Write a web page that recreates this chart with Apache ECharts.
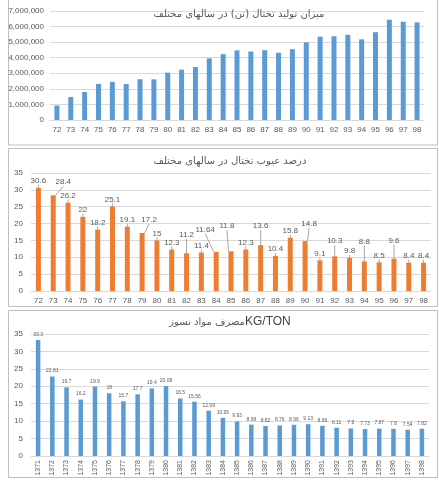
<!DOCTYPE html>
<html><head><meta charset="utf-8">
<script src="https://cdn.jsdelivr.net/npm/echarts@6/dist/echarts.min.js"></script>
<style>html,body{margin:0;padding:0;background:#fff}#c{width:439px;height:484px}</style>
</head><body><div id="c"></div>
<script>
const years2 = ['72','73','74','75','76','77','78','79','80','81','82','83','84','85','86','87','88','89','90','91','92','93','94','95','96','97','98'];
const production = [930000,1480000,1800000,2320000,2450000,2310000,2620000,2610000,3040000,3230000,3400000,3960000,4230000,4470000,4400000,4480000,4320000,4550000,4990000,5350000,5380000,5470000,5180000,5640000,6440000,6310000,6270000];
const defects = [30.6,28.4,26.2,22,18.2,25.1,19.1,17.2,15,12.3,11.2,11.4,11.64,11.8,12.3,13.6,10.4,15.8,14.8,9.1,10.3,9.8,8.8,8.5,9.6,8.4,8.4];
const years4 = ['1371','1372','1373','1374','1375','1376','1377','1378','1379','1380','1381','1382','1383','1384','1385','1386','1387','1388','1389','1390','1391','1392','1393','1394','1395','1396','1397','1398'];
const refractory = [33.3,22.81,19.7,16.2,19.9,18,15.7,17.7,19.4,20.08,16.5,15.56,12.99,10.95,9.93,8.99,8.62,8.76,8.96,9.13,8.66,8.11,7.9,7.73,7.87,7.8,7.54,7.82];
const titles = ['میزان تولید تختال (تن) در سالهای مختلف','درصد عیوب تختال در سالهای مختلف','مصرف مواد نسوز','KG/TON'];

const gray = '#595959';
const font = 'Liberation Sans';
const chart = echarts.init(document.getElementById('c'), null, {renderer:'canvas'});
// label shifts (styling) for defect labels with leader lines
const shifts = {1:[10,-6],7:[7,-6],10:[0,-11],12:[-11,-15],13:[-4,-18],15:[0,-12],18:[4,-10],20:[0,-8],22:[0,-13],24:[0,-11]};
const tStyle = {fontSize:10, fontWeight:'normal', color:gray, fontFamily:'DejaVu Sans'};
const axisLbl = {color:gray, fontSize:8, fontFamily:font};
const split = {lineStyle:{color:'#d9d9d9', width:1}};
chart.setOption({
  animation:false,
  title:[
    {text:titles[0], left:234, top:4, textAlign:'center', textStyle:tStyle},
    {text:titles[1], left:225, top:151, textAlign:'center', textStyle:tStyle},
    {text:'{a|' + titles[2] + '}{b|' + titles[3] + '}', left:225, top:311, textAlign:'center',
      textStyle:{fontWeight:'normal', rich:{a:{fontSize:10, fontWeight:'normal', color:gray, fontFamily:'DejaVu Sans'}, b:{fontSize:12, fontWeight:'normal', color:'#404040', fontFamily:font}}}}
  ],
  graphic:[
    {type:'rect', shape:{x:8.5,y:-1,width:429,height:146}, style:{fill:'none',stroke:'#bfbfbf',lineWidth:1}},
    {type:'rect', shape:{x:8.5,y:148.5,width:429,height:158}, style:{fill:'none',stroke:'#bfbfbf',lineWidth:1}},
    {type:'rect', shape:{x:8.5,y:310.5,width:429,height:167}, style:{fill:'none',stroke:'#bfbfbf',lineWidth:1}}
  ],
  grid:[
    {left:50, right:15, top:11, height:109},
    {left:31, right:8, top:173, height:118},
    {left:31, right:10, top:334, height:122}
  ],
  xAxis:[
    {type:'category', gridIndex:0, data:years2, axisTick:{show:false}, axisLine:{lineStyle:{color:'#d9d9d9'}}, axisLabel:Object.assign({margin:6, interval:0}, axisLbl)},
    {type:'category', gridIndex:1, data:years2, axisTick:{show:false}, axisLine:{lineStyle:{color:'#d9d9d9'}}, axisLabel:Object.assign({margin:6, interval:0}, axisLbl)},
    {type:'category', gridIndex:2, data:years4, axisTick:{show:false}, axisLine:{lineStyle:{color:'#d9d9d9'}}, axisLabel:Object.assign({margin:4, interval:0, rotate:90}, axisLbl, {fontSize:7})}
  ],
  yAxis:[
    {type:'value', gridIndex:0, min:0, max:7000000, interval:1000000, splitLine:split, axisLabel:Object.assign({margin:6, formatter:v=>v.toLocaleString('en-US')}, axisLbl)},
    {type:'value', gridIndex:1, min:0, max:35, interval:5, splitLine:split, axisLabel:Object.assign({margin:8}, axisLbl)},
    {type:'value', gridIndex:2, min:0, max:35, interval:5, splitLine:split, axisLabel:Object.assign({margin:8}, axisLbl)}
  ],
  series:[
    {type:'bar', xAxisIndex:0, yAxisIndex:0, data:production, barWidth:5, itemStyle:{color:'#5B9BD5'}},
    {type:'bar', xAxisIndex:1, yAxisIndex:1, data:defects, barWidth:5, itemStyle:{color:'#ED7D31'},
      label:{show:true, position:'top', distance:3, color:gray, fontSize:8, fontFamily:font},
      labelLine:{show:true, lineStyle:{color:'#a6a6a6', width:1}},
      labelLayout:function(p){ const s = shifts[p.dataIndex]; return s ? {dx:s[0], dy:s[1]} : {}; }
    },
    {type:'bar', xAxisIndex:2, yAxisIndex:2, data:refractory, barWidth:4.5, itemStyle:{color:'#5B9BD5'},
      label:{show:true, position:'top', distance:3, color:gray, fontSize:5, fontFamily:font}}
  ]
});
</script></body></html>
